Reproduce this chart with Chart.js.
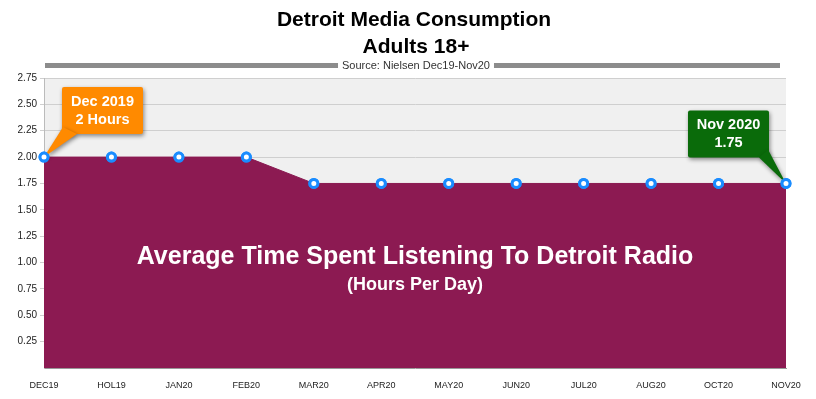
<!DOCTYPE html>
<html>
<head>
<meta charset="utf-8">
<script src="https://cdn.jsdelivr.net/npm/chart.js@4"></script>
<style>
  html, body { margin: 0; padding: 0; background: #fff; }
  #wrap { width: 816px; height: 399px; position: relative; }
</style>
</head>
<body>
<div id="wrap"><canvas id="chart"></canvas></div>
<script>
const months = ["DEC19", "HOL19", "JAN20", "FEB20", "MAR20", "APR20", "MAY20", "JUN20", "JUL20", "AUG20", "OCT20", "NOV20"];
const hoursPerDay = [2, 2, 2, 2, 1.75, 1.75, 1.75, 1.75, 1.75, 1.75, 1.75, 1.75];
const yTicks = [0.25, 0.5, 0.75, 1, 1.25, 1.5, 1.75, 2, 2.25, 2.5, 2.75];

const titleLines = ["Detroit Media Consumption", "Adults 18+"];
const sourceText = "Source: Nielsen Dec19-Nov20";
const centerLines = ["Average Time Spent Listening To Detroit Radio", "(Hours Per Day)"];

// callouts: which point, text lines, colour
const callouts = [
    { index: 0, lines: ["Dec 2019", "2 Hours"], color: "#ff8a00" },
    { index: 11, lines: ["Nov 2020", "1.75"], color: "#0a6b0a" }
];

const FONT = "'Liberation Sans', Arial, sans-serif";

const decorPlugin = {
    id: "decor",
    beforeDraw(chart) {
        const { ctx, chartArea } = chart;
        ctx.save();
        ctx.fillStyle = "#f0f0f0";
        ctx.fillRect(chartArea.left, chartArea.top, chartArea.right - chartArea.left, chartArea.bottom - chartArea.top);

        // header
        ctx.fillStyle = "#000";
        ctx.textAlign = "center";
        ctx.textBaseline = "middle";
        ctx.font = "bold 21px " + FONT;
        ctx.fillText(titleLines[0], 414, 20);
        ctx.fillText(titleLines[1], 416, 47);

        ctx.font = "11px " + FONT;
        const w = ctx.measureText(sourceText).width;
        ctx.fillStyle = "#333";
        ctx.fillText(sourceText, 416, 66);
        ctx.fillStyle = "#8c8c8c";
        ctx.fillRect(45, 63, 416 - w / 2 - 4 - 45, 5);
        ctx.fillRect(416 + w / 2 + 4, 63, 780 - (416 + w / 2 + 4), 5);
        ctx.restore();
    },
    afterDatasetsDraw(chart) {
        const { ctx, chartArea } = chart;
        const meta = chart.getDatasetMeta(0);
        ctx.save();

        // centre text
        const cx = (chartArea.left + chartArea.right) / 2;
        ctx.fillStyle = "#fff";
        ctx.textAlign = "center";
        ctx.textBaseline = "middle";
        ctx.font = "bold 25px " + FONT;
        ctx.fillText(centerLines[0], cx, 257);
        ctx.font = "bold 18px " + FONT;
        ctx.fillText(centerLines[1], cx, 285);

        // callouts
        callouts.forEach(c => {
            const pt = meta.data[c.index];
            const bw = 81, bh = 47;
            let bx, by, tail;
            if (c.index === 0) {
                bx = pt.x + 18; by = pt.y - 70;
                tail = [[bx + 1, by + bh - 7], [bx + 15, by + bh], [pt.x, pt.y]];
            } else {
                bx = pt.x - 98; by = pt.y - 73;
                tail = [[bx + bw - 10, by + bh], [bx + bw - 1, by + bh - 8], [pt.x, pt.y]];
            }
            ctx.shadowColor = "rgba(0,0,0,0.45)";
            ctx.shadowBlur = 4;
            ctx.shadowOffsetX = 1;
            ctx.shadowOffsetY = 2;
            ctx.fillStyle = c.color;
            ctx.beginPath();
            ctx.roundRect(bx, by, bw, bh, 2);
            ctx.fill();
            ctx.beginPath();
            ctx.moveTo(tail[0][0], tail[0][1]);
            ctx.lineTo(tail[1][0], tail[1][1]);
            ctx.lineTo(tail[2][0], tail[2][1]);
            ctx.closePath();
            ctx.fill();
            ctx.shadowColor = "transparent";
            ctx.fillStyle = "#fff";
            ctx.font = "bold 14.5px " + FONT;
            ctx.fillText(c.lines[0], bx + bw / 2, by + 15);
            ctx.fillText(c.lines[1], bx + bw / 2, by + 33);
        });
        ctx.restore();

        // redraw points above callout tails
        meta.data.forEach(p => p.draw(ctx, chartArea));
    }
};

new Chart(document.getElementById("chart"), {
    type: "line",
    data: {
        labels: months,
        datasets: [{
            data: hoursPerDay,
            borderColor: "#8a1a52",
            backgroundColor: "#8c1a52",
            borderWidth: 1,
            fill: "origin",
            tension: 0,
            pointRadius: 4,
            pointBorderWidth: 3,
            pointBorderColor: "#1a8cff",
            pointBackgroundColor: "#ffffff",
            clip: false
        }]
    },
    options: {
        responsive: true,
        maintainAspectRatio: false,
        animation: false,
        layout: { padding: { top: 78, right: 30, left: 0, bottom: 0 } },
        plugins: {
            legend: { display: false },
            tooltip: { enabled: false }
        },
        scales: {
            x: {
                offset: false,
                grid: { display: false },
                border: { color: "#999", width: 1 },
                ticks: {
                    color: "#222",
                    font: { family: "'Liberation Sans Narrow', " + FONT, size: 9 },
                    maxRotation: 0,
                    autoSkip: false,
                    padding: 4
                },
                afterFit(scale) { scale.height = 31; }
            },
            y: {
                min: 0,
                max: 2.75,
                grid: { color: "#cfcfcf", drawTicks: true, tickLength: 4 },
                border: { color: "#bbb" },
                afterBuildTicks(scale) {
                    scale.ticks = yTicks.map(v => ({ value: v }));
                },
                ticks: {
                    color: "#222",
                    font: { family: FONT, size: 10 },
                    padding: 3,
                    callback: v => v.toFixed(2)
                },
                afterFit(scale) { scale.width = 44; }
            }
        }
    },
    plugins: [decorPlugin]
});
</script>
</body>
</html>
